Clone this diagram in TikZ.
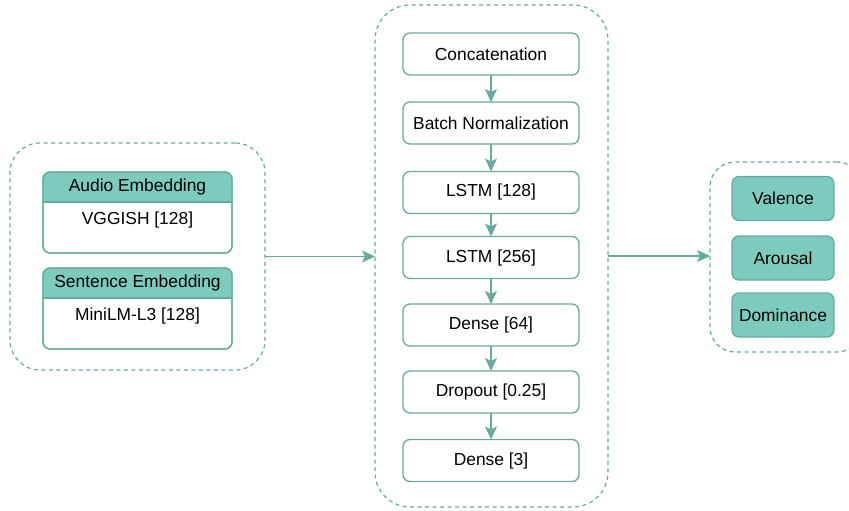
\documentclass[tikz,border=0pt]{standalone}
\usepackage{fontspec}
\setmainfont{Liberation Sans}
\usetikzlibrary{arrows.meta,calc}
\definecolor{tline}{HTML}{67AB9F}
\definecolor{tfill}{HTML}{7DCBBC}
\tikzset{
  x=1pt, y=-1pt,
  lbl/.style={font=\fontsize{17.4}{20}\selectfont, text=black, inner sep=0pt},
  grp/.style={draw=tline, line width=1.2pt, dash pattern=on 4pt off 3.5pt, rounded corners=#1, outer sep=0pt, inner sep=0pt},
  layer/.style={draw=tline, line width=1.3pt, rounded corners=7pt, fill=white, minimum width=176pt, minimum height=42pt, outer sep=0pt, inner sep=0pt, font=\fontsize{17.4}{20}\selectfont},
  outbox/.style={draw=tline, line width=1.3pt, rounded corners=7pt, fill=tfill, minimum width=102pt, minimum height=44pt, outer sep=0pt, inner sep=0pt, font=\fontsize{17.4}{20}\selectfont},
  card/.style={draw=tline, line width=1.3pt, rounded corners=7pt, fill=white, minimum width=189pt, minimum height=81pt, outer sep=0pt, inner sep=0pt},
  flow/.style={draw=tline, line width=1.4pt, -{Stealth[length=13pt, width=12pt, inset=3pt]}},
}
\begin{document}
\begin{tikzpicture}
\useasboundingbox (0,0) rectangle (849,511);

% groups
\node[grp=30pt, minimum width=255pt, minimum height=227pt] (grpL) at (137.5,256.5) {};
\node[grp=35pt, minimum width=233pt, minimum height=502pt] (grpC) at (491.5,256) {};
\node[grp=25pt, minimum width=152pt, minimum height=190pt] (grpR) at (786,257) {};

% left cards
\foreach \nm/\cy/\head/\body in {audio/212.5/Audio Embedding/VGGISH [128], sent/308.5/Sentence Embedding/MiniLM-L3 [128]} {
  \node[card] (\nm) at (137.5,\cy) {};
  \begin{scope}
    \clip ($(\nm.north west)+(-2,-2)$) rectangle ($(\nm.north east)+(2,30)$);
    \fill[tfill, rounded corners=7pt] (\nm.north west) rectangle (\nm.south east);
  \end{scope}
  \draw[tline, line width=1.3pt, rounded corners=7pt] (\nm.north west) rectangle (\nm.south east);
  \draw[tline, line width=1.3pt] ($(\nm.north west)+(0,30)$) -- ($(\nm.north east)+(0,30)$);
  \node[lbl] (\nm head) at ($(\nm.north)+(0,15)$) {\head};
  \node[lbl] (\nm body) at ($(\nm.north)+(0,48)$) {\body};
}

% center layers
\node[layer] (c1) at (491,54) {Concatenation};
\node[layer] (c2) at (491,123) {Batch Normalization};
\node[layer] (c3) at (491,192.5) {LSTM [128]};
\node[layer] (c4) at (491,257.5) {LSTM [256]};
\node[layer] (c5) at (491,325) {Dense [64]};
\node[layer] (c6) at (491,392) {Dropout [0.25]};
\node[layer] (c7) at (491,460.5) {Dense [3]};
\foreach \a/\b in {c1/c2,c2/c3,c3/c4,c4/c5,c5/c6,c6/c7} {
  \draw[flow] (\a.south) -- (\b.north);
}

% outputs
\node[outbox] (val) at (783,198.5) {Valence};
\node[outbox] (aro) at (783,258) {Arousal};
\node[outbox] (dom) at (783,315) {Dominance};

% connectors between groups
\draw[flow] (grpL.east) -- (grpL.east -| grpC.west);
\draw[flow] (grpC.east) -- (grpC.east -| grpR.west);
\end{tikzpicture}
\end{document}
